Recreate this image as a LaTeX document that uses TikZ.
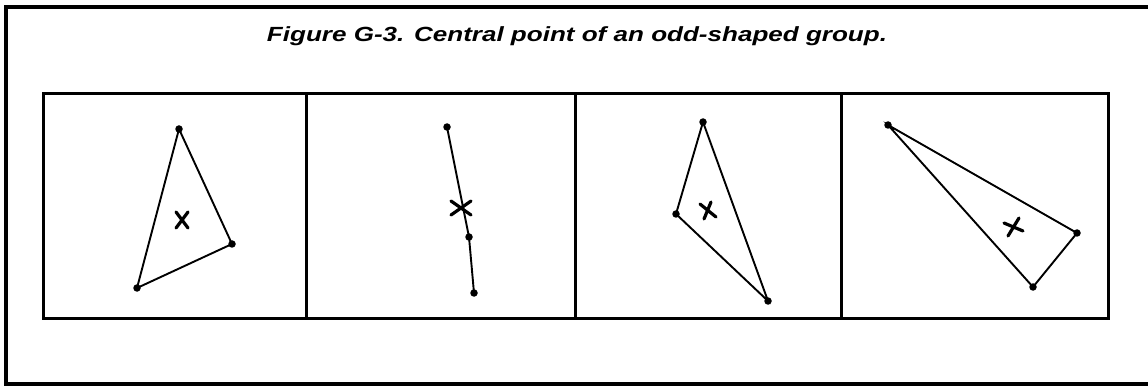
\documentclass[tikz,border=0pt]{standalone}
\usepackage{fontspec}
\setmainfont{Liberation Sans}
\begin{document}
\begin{tikzpicture}[x=1pt,y=-1pt,
  dot/.style={circle,fill=black,inner sep=0pt,minimum size=7.5pt},
  edge/.style={line width=1.9pt},
  xmark/.style={line width=3.2pt,line cap=round},
  frame/.style={line width=4pt},
  panel/.style={line width=3pt}]
\clip (0,0) rectangle (1148,387);
\fill[white] (0,0) rectangle (1148,387);
% outer frame (right side off the page)
\draw[frame] (1160,7) -- (6,7) -- (6,384) -- (1160,384);
% title
\node[anchor=base,inner sep=0pt,xscale=1.27,font=\fontsize{20.5}{24}\selectfont\bfseries\itshape] (title) at (577,42) {Figure G-3. Central point of an odd-shaped group.};
% panels
\draw[panel] (43,94) rectangle (1108,318);
\draw[panel] (306,94) -- (306,318);
\draw[panel] (575,94) -- (575,318);
\draw[panel] (841,94) -- (841,318);
% panel 1
\node[dot] (a1) at (179,129) {};
\node[dot] (a2) at (232,244) {};
\node[dot] (a3) at (137,288) {};
\draw[edge] (a1.center) -- (a2.center) -- (a3.center) -- cycle;
\draw[xmark] (176,212) -- (188,228) (188,212) -- (176,228);
% panel 2
\node[dot] (b1) at (447,127) {};
\node[dot] (b2) at (469,237) {};
\node[dot] (b3) at (474,293) {};
\draw[edge] (b1.center) -- (b2.center) -- (b3.center);
\draw[xmark] (451,201) -- (471,215) (471,201) -- (451,215);
% panel 3
\node[dot] (c1) at (703,122) {};
\node[dot] (c2) at (676,214) {};
\node[dot] (c3) at (768,301) {};
\draw[edge] (c1.center) -- (c2.center) -- (c3.center) -- cycle;
\draw[xmark] (700,204) -- (716,217) (711,202) -- (704,219);
% panel 4
\node[dot] (d1) at (888,125) {};
\node[dot] (d2) at (1077,233) {};
\node[dot] (d3) at (1033,287) {};
\draw[edge] (d1.center) -- (d2.center) -- (d3.center) -- cycle;
\draw[xmark] (1008,236) -- (1019,218) (1004,223) -- (1023,231);
\end{tikzpicture}
\end{document}
